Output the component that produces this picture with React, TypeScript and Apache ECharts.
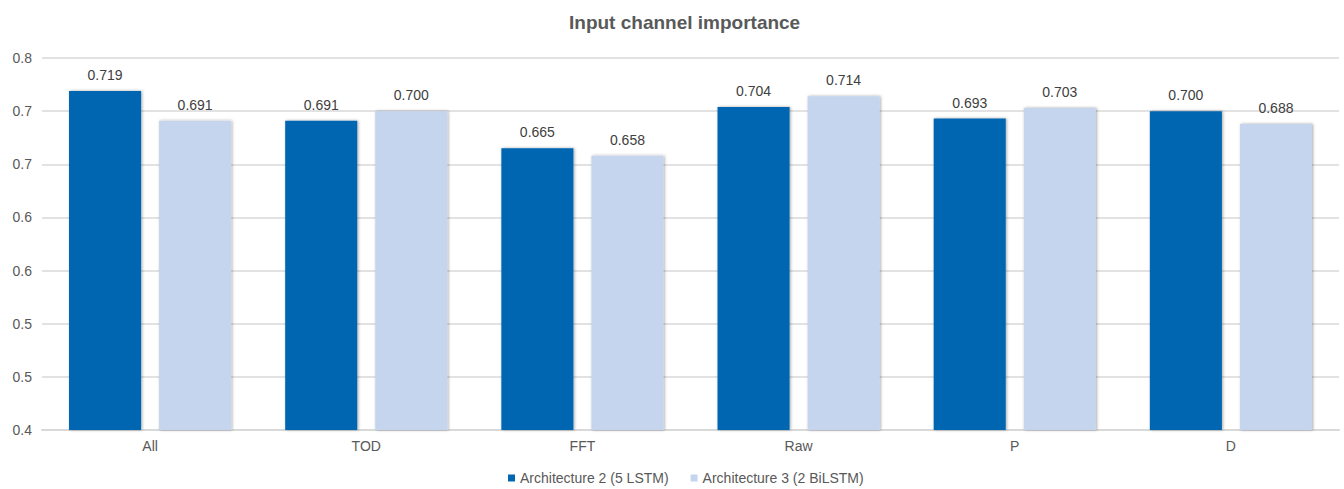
import React, { useEffect, useRef } from "react";
import * as echarts from "echarts";

const categories = ["All", "TOD", "FFT", "Raw", "P", "D"];
const arch2Values = [0.719, 0.691, 0.665, 0.704, 0.693, 0.7];
const arch3Values = [0.691, 0.7, 0.658, 0.714, 0.703, 0.688];
const seriesNames = ["Architecture 2 (5 LSTM)", "Architecture 3 (2 BiLSTM)"];

const TEXT = "#595959";
const FONT = "'Liberation Sans', Arial, sans-serif";

// Ticks are shown with one decimal, rounding half up
const tickLabel = (v: number) => {
  const r = Math.round(v * 1000) / 1000;
  return (Math.round(r * 10 + 1e-6) / 10).toFixed(1);
};

export default function App() {
  const ref = useRef<HTMLDivElement>(null);

  useEffect(() => {
    document.body.style.margin = "0";
    if (!ref.current) return;
    const chart = echarts.init(ref.current, undefined, { renderer: "svg" });
    const barStyle = (color: string) => ({
      color,
      shadowColor: "rgba(0,0,0,0.35)",
      shadowBlur: 3,
      shadowOffsetX: 1,
      shadowOffsetY: 0,
    });
    const label = {
      show: true,
      position: "top" as const,
      distance: 9,
      color: "#404040",
      fontFamily: FONT,
      fontSize: 14,
      formatter: (p: any) => Number(p.value).toFixed(3),
    };
    chart.setOption({
      animation: false,
      backgroundColor: "#ffffff",
      title: {
        text: "Input channel importance",
        left: 564,
        top: 8,
        textStyle: { color: TEXT, fontFamily: FONT, fontSize: 19, fontWeight: "bold" },
      },
      legend: {
        bottom: -1,
        left: 503,
        itemWidth: 7,
        itemHeight: 7,
        itemGap: 22,
        icon: "rect",
        textStyle: { color: TEXT, fontFamily: FONT, fontSize: 14 },
        data: seriesNames,
      },
      grid: { left: 42, right: 5, top: 58, bottom: 59, containLabel: false },
      xAxis: {
        type: "category",
        data: categories,
        axisLine: { lineStyle: { color: "#d9d9d9", width: 2 } },
        axisTick: { show: false },
        axisLabel: { color: TEXT, fontFamily: FONT, fontSize: 14, margin: 9 },
      },
      yAxis: {
        type: "value",
        min: 0.4,
        max: 0.75,
        interval: 0.05,
        axisLine: { show: false },
        axisTick: { show: false },
        splitLine: { lineStyle: { color: "#d9d9d9", width: 1.5 } },
        axisLabel: {
          color: TEXT,
          fontFamily: FONT,
          fontSize: 14,
          margin: 10,
          formatter: tickLabel,
        },
      },
      series: [
        {
          name: seriesNames[0],
          type: "bar",
          data: arch2Values,
          barGap: "25%",
          barCategoryGap: "25%",
          itemStyle: barStyle("#0266b1"),
          label,
        },
        {
          name: seriesNames[1],
          type: "bar",
          data: arch3Values,
          itemStyle: barStyle("#c5d5ee"),
          label,
        },
      ],
    });
    return () => chart.dispose();
  }, []);

  return <div ref={ref} style={{ width: 1344, height: 489 }} />;
}
